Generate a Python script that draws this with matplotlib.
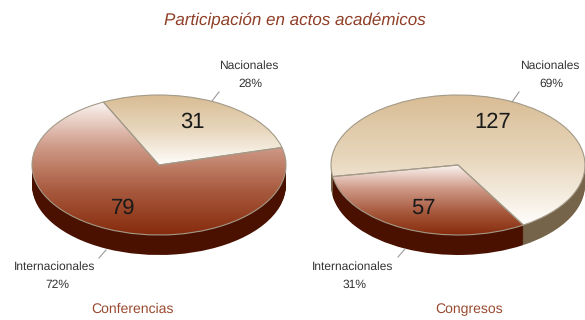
import numpy as np
import matplotlib.pyplot as plt
from matplotlib.colors import LinearSegmentedColormap

plt.rcParams["font.family"] = ["Liberation Sans", "DejaVu Sans"]
plt.rcParams["text.hinting"] = "no_hinting"
plt.rcParams["text.hinting_factor"] = 1

W, H = 585, 320

title = "Participación en actos académicos"
categories = ["Nacionales", "Internacionales"]
conf_counts = [31, 79]
cong_counts = [127, 57]
conf_pct = ["28%", "72%"]
cong_pct = ["69%", "31%"]

RX, RY, DEPTH = 127, 70, 20
TEXT_GREY = "#333333"
BROWN = "#9a4a30"

nac_cmap = LinearSegmentedColormap.from_list("nac", ["#d8bc94", "#e8d7bd", "#fffdfb"])
int_cmap = LinearSegmentedColormap.from_list("int", ["#fbf5f2", "#cf9a88", "#a85a3e", "#862a0c"])
cmaps = [nac_cmap, int_cmap]
side_colors = ["#75644a", "#4a1100"]


def draw_pie(fig, cx, cy, counts, startangle):
    # axes in pixels, unit radius squashed to an ellipse
    pad = 3
    left, right = cx - RX - pad, cx + RX + pad
    top, bottom = cy - RY - pad, cy + RY + DEPTH + pad
    ax = fig.add_axes([left / W, 1 - bottom / H, (right - left) / W, (bottom - top) / H])

    for shift in np.arange(DEPTH, 0, -1):
        ax.pie(counts, colors=side_colors, startangle=startangle, center=(0, -shift / RY),
               wedgeprops={"linewidth": 0})

    wedges, _ = ax.pie(counts, colors=["none", "none"], startangle=startangle,
                       wedgeprops={"linewidth": 0})
    grad = np.linspace(0, 1, 256).reshape(-1, 1)
    for wedge, cmap in zip(wedges, cmaps):
        ext = wedge.get_path().get_extents(wedge.get_patch_transform())
        im = ax.imshow(grad, cmap=cmap, aspect="auto", origin="upper",
                       extent=[ext.x0, ext.x1, ext.y0, ext.y1], zorder=2)
        im.set_clip_path(wedge)
        wedge.set(edgecolor="#a39a88", linewidth=0.8, zorder=3)

    ax.set_aspect("auto")
    ax.set_xlim(-(RX + pad) / RX, (RX + pad) / RX)
    ax.set_ylim(-(RY + DEPTH + pad) / RY, (RY + pad) / RY)
    ax.axis("off")
    return ax


fig = plt.figure(figsize=(W / 100, H / 100), dpi=100, facecolor="white")

draw_pie(fig, 159, 165, conf_counts, 14.5)
draw_pie(fig, 458, 165, cong_counts, 301)

# overlay in pixel coordinates for labels and leader lines
ov = fig.add_axes([0, 0, 1, 1], facecolor="none")
ov.set_xlim(0, W)
ov.set_ylim(H, 0)
ov.axis("off")

ov.text(295, 21, title, color="#8f3f28", fontsize=12, style="italic", ha="center", va="center")

ov.text(192, 122, str(conf_counts[0]), color="#1a1a1a", fontsize=15.5, ha="center", va="center")
ov.text(123, 208, str(conf_counts[1]), color="#1a1a1a", fontsize=15.5, ha="center", va="center")
ov.text(493, 122, str(cong_counts[0]), color="#1a1a1a", fontsize=15.5, ha="center", va="center")
ov.text(423, 208, str(cong_counts[1]), color="#1a1a1a", fontsize=15.5, ha="center", va="center")

ov.text(249, 66, categories[0], color=TEXT_GREY, fontsize=8.9, ha="center", va="center")
ov.text(250, 84, conf_pct[0], color=TEXT_GREY, fontsize=8.9, ha="center", va="center")
ov.text(55, 267, categories[1], color=TEXT_GREY, fontsize=8.9, ha="center", va="center")
ov.text(57, 285, conf_pct[1], color=TEXT_GREY, fontsize=8.9, ha="center", va="center")
ov.text(550, 66, categories[0], color=TEXT_GREY, fontsize=8.9, ha="center", va="center")
ov.text(551, 84, cong_pct[0], color=TEXT_GREY, fontsize=8.9, ha="center", va="center")
ov.text(353, 267, categories[1], color=TEXT_GREY, fontsize=8.9, ha="center", va="center")
ov.text(355, 285, cong_pct[1], color=TEXT_GREY, fontsize=8.9, ha="center", va="center")

ov.text(133, 309, "Conferencias", color=BROWN, fontsize=10.2, ha="center", va="center")
ov.text(469, 309, "Congresos", color=BROWN, fontsize=10.2, ha="center", va="center")

for xs, ys in [((219, 212), (92, 101)), ((106, 99), (250, 258)),
               ((519, 512), (92, 102)), ((405, 398), (249, 257))]:
    ov.plot(xs, ys, color="#9a9a9a", lw=0.8)

fig.savefig("out.png", dpi=100)
